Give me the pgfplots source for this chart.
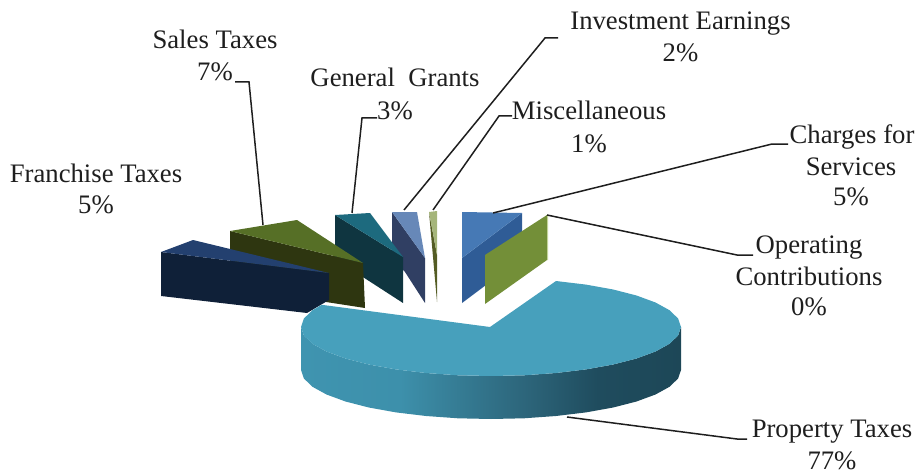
\documentclass[border=0pt]{standalone}
\usepackage{fontspec}
\setmainfont{Liberation Serif}
\usepackage{pgfplots}
\pgfplotsset{compat=1.18}
\definecolor{frT}{HTML}{23406F}\definecolor{frS}{HTML}{0F2038}
\definecolor{saT}{HTML}{566F26}\definecolor{saS}{HTML}{2E3610}
\definecolor{grT}{HTML}{1D6A7E}\definecolor{grS}{HTML}{0F3540}
\definecolor{inT}{HTML}{6788B8}\definecolor{inS}{HTML}{303F63}
\definecolor{miT}{HTML}{A5B57A}\definecolor{miS}{HTML}{545C24}
\definecolor{chT}{HTML}{4679B5}\definecolor{chS}{HTML}{2F5C96}
\definecolor{opF}{HTML}{738F38}\definecolor{opT}{HTML}{C3D39A}
\definecolor{prT}{HTML}{47A0BC}
\definecolor{shA}{HTML}{3F94B0}\definecolor{shB}{HTML}{3D90AB}
\definecolor{shC}{HTML}{357B93}\definecolor{shD}{HTML}{2C6479}
\definecolor{shE}{HTML}{1F4C5E}\definecolor{shF}{HTML}{1D4757}
\definecolor{txt}{HTML}{1E1E1E}
\pgfdeclarehorizontalshading{sideshade}{100bp}{color(0bp)=(shA);color(25bp)=(shA);color(38bp)=(shB);color(46bp)=(shC);color(55bp)=(shD);color(64bp)=(shE);color(75bp)=(shF);color(100bp)=(shF)}
\newcommand{\lab}[3]{\node[anchor=base, inner sep=0pt, text=txt] at (axis cs:#1,#2) {\fontsize{26.8}{30}\selectfont #3};}
\begin{document}
\begin{tikzpicture}
\begin{axis}[
  scale only axis, width=917bp, height=473bp,
  xmin=0, xmax=917, ymin=0, ymax=473, y dir=reverse,
  hide axis, clip=false,
  lead/.style={draw=txt, line width=1.5bp, no markers, forget plot},
  poly/.style={draw=none, no markers, forget plot},
]
\path (axis cs:0,0) rectangle (axis cs:917,473);
% General Grants / Investment / Miscellaneous
\addplot[poly, fill=inS] coordinates {(392,212)(425,258)(425,303)(405,272)(392,258)} -- cycle;
\addplot[poly, fill=inT] coordinates {(392,212)(417,212)(425,258)} -- cycle;
\addplot[poly, fill=grS] coordinates {(335,215)(403,257)(403,303)(335,259)} -- cycle;
\addplot[poly, fill=grT] coordinates {(335,215)(370,213)(403,257)} -- cycle;
\addplot[poly, fill=miS] coordinates {(429,212)(437,255)(437,302)} -- cycle;
\addplot[poly, fill=miT] coordinates {(429,212)(437,211)(437,255)} -- cycle;
% Sales Taxes
\addplot[poly, fill=saS] coordinates {(230,231)(363,263)(365,308)(300,298)(230,262)} -- cycle;
\addplot[poly, fill=saT] coordinates {(230,231)(297,220)(363,263)} -- cycle;
% Franchise Taxes
\addplot[poly, fill=frS] coordinates {(161,252)(329,273)(329,300)(307,313)(161,296)} -- cycle;
\addplot[poly, fill=frT] coordinates {(161,252)(193,240)(329,273)} -- cycle;
% Charges for Services
\addplot[poly, fill=chS] coordinates {(462,258)(522,213)(522,258)(462,303)} -- cycle;
\addplot[poly, fill=chT] coordinates {(462,212)(522,213)(462,258)} -- cycle;
% Operating Contributions
\addplot[poly, fill=opF] coordinates {(547,215)(547,260)(485,304)(485,255)} -- cycle;
\addplot[poly, fill=opT] coordinates {(547,214)(548,215)(548,260)(547,260)} -- cycle;
% Property Taxes side
\addplot[poly, shading=sideshade] coordinates {
(681,327)(678.1,335.5)(669.5,343.8)(655.5,351.5)(636.5,358.5)(613.2,364.5)(586,369.4)(556,373)(524,375.3)(491,376)
(458,375.3)(426,373)(396,369.4)(368.8,364.5)(345.5,358.5)(326.5,351.5)(312.5,343.8)(303.9,335.5)(301,327)
(301,370)(303.9,378.5)(312.5,386.8)(326.5,394.5)(345.5,401.5)(368.8,407.5)(396,412.4)(426,416)(458,418.3)(491,419)
(524,418.3)(556,416)(586,412.4)(613.2,407.5)(636.5,401.5)(655.5,394.5)(669.5,386.8)(678.1,378.5)(681,370)} -- cycle;
% Property Taxes top
\addplot[poly, fill=prT] coordinates {
(490,327)(556,281)(586,284.6)(613.2,289.5)(636.5,295.5)(655.5,302.5)(669.5,310.2)(678.1,318.5)(681,327)
(678.1,335.5)(669.5,343.8)(655.5,351.5)(636.5,358.5)(613.2,364.5)(586,369.4)(556,373)(524,375.3)(491,376)
(458,375.3)(426,373)(396,369.4)(368.8,364.5)(345.5,358.5)(326.5,351.5)(312.5,343.8)(303.9,335.5)(301,327)
(303.9,318.5)(312.5,310.2)(321.7,304.8)} -- cycle;
% Leader lines
\addplot[lead] coordinates {(235,82)(249,82)(263,225)};
\addplot[lead] coordinates {(377,118)(362,118)(352,213)};
\addplot[lead] coordinates {(558,38)(545,38)(404,210)};
\addplot[lead] coordinates {(512,116)(499,116)(433,210)};
\addplot[lead] coordinates {(788,144)(772,144)(493,213)};
\addplot[lead] coordinates {(547,215)(737,255)(753,255)};
\addplot[lead] coordinates {(567,417)(737,439)(747,439)};
% Labels
\lab{215}{49}{Sales Taxes}
\lab{215}{81}{7\%}
\lab{395}{87}{General\ \ Grants}
\lab{395}{119}{3\%}
\lab{96}{182}{Franchise Taxes}
\lab{96}{213}{5\%}
\lab{680.5}{30}{Investment Earnings}
\lab{680.5}{62}{2\%}
\lab{589}{119}{Miscellaneous}
\lab{589}{152}{1\%}
\lab{852}{143}{Charges for}
\lab{851}{175}{Services}
\lab{851}{205}{5\%}
\lab{809}{253}{Operating}
\lab{809}{285}{Contributions}
\lab{809}{315}{0\%}
\lab{832}{437}{Property Taxes}
\lab{832}{469}{77\%}
\end{axis}
\end{tikzpicture}
\end{document}
